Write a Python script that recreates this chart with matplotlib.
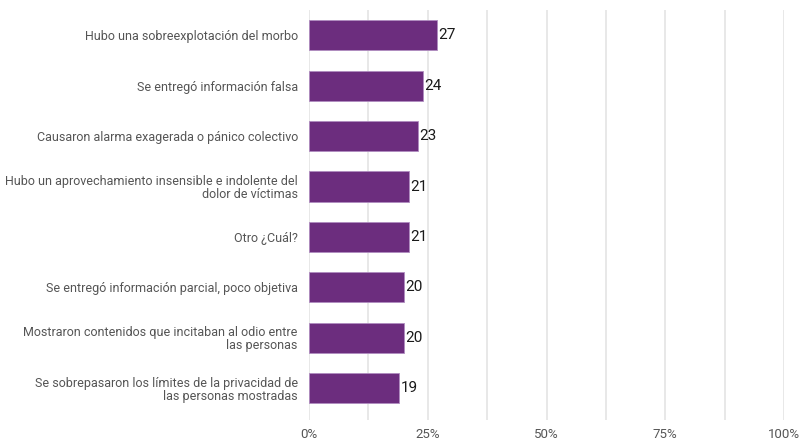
import matplotlib
matplotlib.use("Agg")
import matplotlib.pyplot as plt

plt.rcParams['font.family'] = ['Roboto', 'DejaVu Sans']

categorias = [
    "Hubo una sobreexplotación del morbo",
    "Se entregó información falsa",
    "Causaron alarma exagerada o pánico colectivo",
    "Hubo un aprovechamiento insensible e indolente del\ndolor de víctimas",
    "Otro ¿Cuál?",
    "Se entregó información parcial, poco objetiva",
    "Mostraron contenidos que incitaban al odio entre\nlas personas",
    "Se sobrepasaron los límites de la privacidad de\nlas personas mostradas",
]
valores = [27, 24, 23, 21, 21, 20, 20, 19]
ticks_x = [0, 25, 50, 75, 100]
etiquetas_x = ["0%", "25%", "50%", "75%", "100%"]

fig = plt.figure(figsize=(8.08, 4.42), dpi=100)
ax = fig.add_axes([0.3824, 0.05, 0.588, 0.927])

pos = list(range(len(categorias)))
ax.barh(pos, valores, height=0.6, color='#6c2d7e', edgecolor='#b08cc0',
        linewidth=0.6, zorder=3)

for y, v in zip(pos, valores):
    ax.text(v + 0.3, y, str(v), va='center', ha='left', fontsize=11,
            color='#1a1a1a', zorder=4)

ax.set_xlim(0, 100)
ax.set_ylim(7.63, -0.5)
ax.set_yticks(pos)
ax.set_yticklabels(categorias, fontsize=9, color='#555555', linespacing=1.0)
ax.set_xticks(ticks_x)
ax.set_xticklabels(etiquetas_x, fontsize=9.5, color='#555555')
ax.set_xticks([12.5, 37.5, 62.5, 87.5], minor=True)
ax.tick_params(axis='both', which='both', length=0)
ax.tick_params(axis='y', pad=8)
ax.tick_params(axis='x', pad=6)
ax.grid(axis='x', which='both', color='#e8e8e8', linewidth=1.4, zorder=0)
for s in ax.spines.values():
    s.set_visible(False)

fig.savefig("out.png", dpi=100)
